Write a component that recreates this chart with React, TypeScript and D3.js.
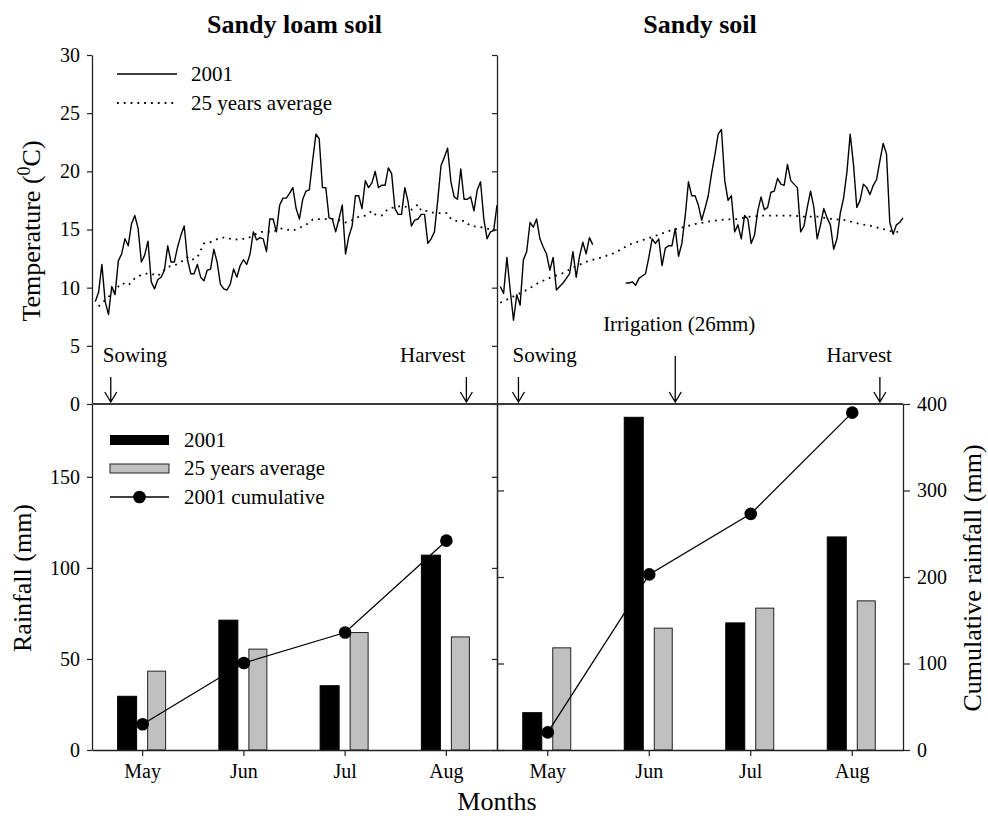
import React, { useEffect, useRef } from "react";
import * as d3 from "d3";

// monthly rainfall (mm)
const months = ["May", "Jun", "Jul", "Aug"];
const rainLoam = [29.5, 71.3, 35.3, 107];
const rainLoamAvg = [43.3, 55.4, 64.5, 62.1];
const cumLoam = [29.7, 100.6, 135.8, 242];
const rainSandy = [20.5, 182.7, 69.8, 117];
const rainSandyAvg = [56.1, 66.9, 77.9, 81.9];
const cumSandy = [20.4, 203, 273, 390];

const tempTicks = [0, 5, 10, 15, 20, 25, 30];
const rainTicks = [0, 50, 100, 150];
const cumTicks = [0, 100, 200, 300, 400];

// daily mean temperature 2001, day 1 = 1 May
const tempLoam = [
  8.8, 9.6, 12.0, 8.8, 7.7, 10.1, 9.4, 12.3, 12.9, 14.2,
  13.6, 15.5, 16.2, 15.1, 12.2, 12.8, 14.0, 10.5, 9.9, 10.7,
  10.9, 11.5, 13.6, 12.2, 12.2, 13.5, 14.5, 15.3, 12.4, 11.2,
  11.2, 12.0, 10.9, 10.6, 11.5, 11.6, 13.3, 12.2, 10.3, 9.9,
  9.8, 10.3, 11.6, 10.9, 11.9, 12.4, 12.0, 12.9, 14.8, 14.1,
  14.3, 14.2, 13.1, 15.9, 15.9, 14.8, 17.1, 17.7, 17.7, 18.1,
  18.6, 16.8, 15.9, 17.6, 18.3, 18.4, 20.9, 23.2, 22.8, 18.6,
  18.6, 16.0, 15.9, 14.8, 15.9, 17.1, 12.9, 14.4, 15.3, 17.9,
  17.9, 16.8, 19.2, 18.6, 19.0, 20.0, 18.6, 18.8, 18.8, 20.3,
  19.8, 16.8, 16.3, 16.3, 18.6, 17.4, 15.3, 15.8, 15.9, 16.3,
  16.3, 13.8, 14.2, 14.8, 17.5, 20.5, 21.2, 22.0, 19.1, 17.8,
  17.6, 20.2, 17.6, 17.6, 17.8, 16.6, 18.4, 19.1, 15.9, 14.2,
  14.8, 14.9, 17.1
];
const tempSandy = [
  10.1, 9.5, 12.6, 9.8, 7.2, 9.4, 8.5, 12.4, 13.1, 15.6,
  15.2, 15.9, 14.2, 13.5, 12.9, 11.5, 12.6, 9.8, 10.1, 10.4,
  10.8, 11.2, 13.1, 10.9, 12.7, 13.9, 12.9, 14.3, 13.7, null,
  null, null, null, null, null, null, null, null, 10.4, 10.4,
  10.5, 10.2, 10.8, 11.0, 11.2, 12.6, 14.2, 13.8, 14.2, 11.9,
  13.4, 13.6, 13.6, 15.1, 12.7, 13.8, 16.1, 19.1, 17.9, 17.9,
  17.1, 15.8, 16.8, 17.9, 19.8, 21.4, 23.2, 23.6, 19.2, 17.5,
  17.9, 14.8, 15.4, 14.2, 16.2, 15.9, 13.8, 14.5, 16.6, 17.8,
  16.7, 16.9, 18.2, 18.3, 19.4, 18.9, 18.8, 20.6, 19.2, 18.9,
  18.6, 14.8, 15.3, 16.9, 18.3, 16.9, 14.2, 15.4, 16.8, 16.0,
  15.4, 13.3, 14.2, 16.4, 17.7, 19.9, 23.2, 20.6, 16.9, 17.5,
  18.9, 18.6, 18.0, 18.8, 19.3, 20.9, 22.4, 21.5, 15.6, 14.6,
  15.4, 15.6, 16.0
];

// 25 years average temperature
const avgLoamDays = [2, 5, 7, 9, 11, 13, 15, 16, 18, 20, 21, 23, 25, 27, 29, 30, 32, 33, 34, 35, 37, 39, 41, 43, 45, 47, 49, 51, 53, 55, 57, 59, 61, 63, 65, 67, 69, 71, 73, 75, 77, 79, 81, 83, 85, 86, 88, 90, 92, 94, 96, 97, 99, 100, 102, 104, 106, 108, 109, 111, 113, 115, 117, 119, 121, 123];
const avgLoam = [8.4, 9.2, 9.8, 10.4, 10.2, 10.8, 11.1, 11.2, 11.2, 11.0, 11.3, 11.8, 11.9, 12.2, 12.6, 12.35, 12.6, 13.2, 13.8, 13.8, 14.05, 14.3, 14.3, 14.1, 14.2, 14.2, 14.5, 14.8, 14.8, 14.8, 15.1, 15.0, 14.9, 15.15, 15.4, 15.85, 15.9, 15.9, 15.9, 15.8, 15.6, 15.8, 16.1, 16.2, 16.6, 16.3, 16.2, 16.8, 16.9, 17.05, 16.9, 16.7, 17.15, 16.6, 16.6, 16.4, 16.4, 16.4, 15.9, 15.7, 15.75, 15.3, 15.25, 15.15, 15.0, 14.9];
const avgSandyDays = [1, 9, 12.5, 15.5, 19.6, 23.6, 27.7, 31.7, 35.8, 40, 44.3, 48.4, 52.4, 56.5, 60.5, 64.5, 68.6, 72.6, 76.7, 80.7, 85.2, 89.3, 93.3, 97.4, 101.4, 105.5, 109.5, 113.5, 117.6, 120, 121.5];
const avgSandy = [8.7, 9.8, 10.4, 10.8, 11.2, 11.8, 12.3, 12.6, 13.0, 13.7, 14.1, 14.5, 14.9, 15.2, 15.5, 15.7, 15.85, 15.9, 16.1, 16.2, 16.2, 16.2, 16.1, 16.1, 15.9, 15.8, 15.5, 15.3, 15.0, 14.8, 14.8];

const eventsLoam = [
  { day: 5.7, name: "Sowing" },
  { day: 113.7, name: "Harvest" }
];
const eventsSandy = [
  { day: 6.5, name: "Sowing" },
  { day: 54, name: "Irrigation (26mm)" },
  { day: 116, name: "Harvest" }
];

const FONT = "'Liberation Serif', 'Times New Roman', serif";

export default function App() {
  const ref = useRef<SVGSVGElement>(null);

  useEffect(() => {
    const svg = d3.select(ref.current);
    svg.selectAll("*").remove();

    const left = 92, mid = 497, right = 903;
    const top = 55, zero = 404, bottom = 750;

    const yTemp = d3.scaleLinear().domain([0, 30]).range([zero, top]);
    const yRain = d3.scaleLinear().domain([0, 190]).range([bottom, zero]);
    const yCum = d3.scaleLinear().domain([0, 400]).range([bottom, zero]);

    const panels = [
      { x0: left, x1: mid, title: "Sandy loam soil", temp: tempLoam, avgDays: avgLoamDays, avg: avgLoam, rain: rainLoam, rainAvg: rainLoamAvg, cum: cumLoam, events: eventsLoam },
      { x0: mid, x1: right, title: "Sandy soil", temp: tempSandy, avgDays: avgSandyDays, avg: avgSandy, rain: rainSandy, rainAvg: rainSandyAvg, cum: cumSandy, events: eventsSandy }
    ];

    const labelOffset: Record<string, { anchor: string; dx: number[]; y: number }> = {
      Sowing: { anchor: "start", dx: [-8, -6], y: 362 },
      Harvest: { anchor: "end", dx: [-1, 12], y: 362 },
      "Irrigation (26mm)": { anchor: "middle", dx: [4, 4], y: 331 }
    };

    const styleAxis = (g: any, size: number) => {
      g.selectAll("path.domain").attr("stroke", "#222").attr("stroke-width", 1.3);
      g.selectAll(".tick line").attr("stroke", "#222").attr("stroke-width", 1.2);
      g.selectAll("text").attr("font-family", FONT).attr("font-size", size).attr("fill", "#000");
      g.attr("font-family", null).attr("font-size", null);
    };

    panels.forEach((p, pi) => {
      const xDay = d3.scaleLinear().domain([0, 123]).range([p.x0, p.x1]);
      const xMonth = d3.scaleBand().domain(months).range([p.x0, p.x1]).padding(0);
      const xSeries = d3.scaleBand().domain(["2001", "avg"]).range([-25, 24]).paddingInner(0.3667).paddingOuter(0);

      // title
      svg.append("text")
        .attr("x", (p.x0 + p.x1) / 2)
        .attr("y", 33)
        .attr("text-anchor", "middle")
        .attr("font-family", FONT)
        .attr("font-weight", "bold")
        .attr("font-size", 26)
        .text(p.title);

      // temperature lines
      const tLine = d3.line<any>()
        .defined((d) => d != null)
        .x((d, i) => xDay(i + 1))
        .y((d) => yTemp(d));
      svg.append("path")
        .datum(p.temp)
        .attr("d", tLine)
        .attr("fill", "none")
        .attr("stroke", "#000")
        .attr("stroke-width", 1.4)
        .attr("stroke-linejoin", "round");

      const aLine = d3.line<number>()
        .x((d, i) => xDay(p.avgDays[i]))
        .y((d) => yTemp(d));
      svg.append("path")
        .datum(p.avg)
        .attr("d", aLine)
        .attr("fill", "none")
        .attr("stroke", "#000")
        .attr("stroke-width", 1.8)
        .attr("stroke-dasharray", "1.8 5");

      // events
      p.events.forEach((e) => {
        const x = xDay(e.day);
        const lo = labelOffset[e.name];
        const y0 = e.name.startsWith("Irrigation") ? 356 : 377;
        svg.append("path")
          .attr("d", `M${x},${y0}V${zero - 2}M${x - 6},${zero - 12}L${x},${zero - 2}L${x + 6},${zero - 12}`)
          .attr("fill", "none")
          .attr("stroke", "#000")
          .attr("stroke-width", 1.3);
        svg.append("text")
          .attr("x", x + lo.dx[pi])
          .attr("y", lo.y)
          .attr("text-anchor", lo.anchor)
          .attr("font-family", FONT)
          .attr("font-size", 21)
          .text(e.name);
      });

      // rainfall bars
      const g = svg.append("g");
      g.selectAll("rect.r01")
        .data(p.rain)
        .enter()
        .append("rect")
        .attr("x", (d, i) => xMonth(months[i])! + xMonth.bandwidth() / 2 + xSeries("2001")!)
        .attr("width", xSeries.bandwidth())
        .attr("y", (d) => yRain(d))
        .attr("height", (d) => bottom - yRain(d))
        .attr("fill", "#000")
        .attr("stroke", "#000")
        .attr("stroke-width", 1);
      g.selectAll("rect.ravg")
        .data(p.rainAvg)
        .enter()
        .append("rect")
        .attr("x", (d, i) => xMonth(months[i])! + xMonth.bandwidth() / 2 + xSeries("avg")!)
        .attr("width", xSeries.bandwidth() - 1)
        .attr("y", (d) => yRain(d))
        .attr("height", (d) => bottom - yRain(d))
        .attr("fill", "#c0c0c0")
        .attr("stroke", "#222")
        .attr("stroke-width", 1);

      // cumulative
      const cLine = d3.line<number>()
        .x((d, i) => xMonth(months[i])! + xMonth.bandwidth() / 2)
        .y((d) => yCum(d));
      svg.append("path")
        .datum(p.cum)
        .attr("d", cLine)
        .attr("fill", "none")
        .attr("stroke", "#000")
        .attr("stroke-width", 1.3);
      svg.selectAll(null)
        .data(p.cum)
        .enter()
        .append("circle")
        .attr("cx", (d, i) => xMonth(months[i])! + xMonth.bandwidth() / 2)
        .attr("cy", (d) => yCum(d))
        .attr("r", 6.3)
        .attr("fill", "#000");

      // bottom axis
      const xb = svg.append("g")
        .attr("transform", `translate(0,${bottom})`)
        .call(d3.axisBottom(xMonth).tickSize(6).tickSizeOuter(0).tickPadding(8));
      styleAxis(xb, 20);
    });

    // left axes
    const al = svg.append("g").attr("transform", `translate(${left},0)`)
      .call(d3.axisLeft(yTemp).tickValues(tempTicks).tickSize(5).tickSizeOuter(0).tickPadding(7));
    styleAxis(al, 20);
    const ar = svg.append("g").attr("transform", `translate(${left},0)`)
      .call(d3.axisLeft(yRain).tickValues(rainTicks).tickSize(5).tickSizeOuter(0).tickPadding(7));
    ar.selectAll(".tick").filter((d: any) => d === 0 && false).remove();
    styleAxis(ar, 20);

    // middle divider ticks
    const m1 = svg.append("g").attr("transform", `translate(${mid},0)`)
      .call(d3.axisLeft(yTemp).tickValues(tempTicks).tickSize(5).tickSizeOuter(0).tickFormat(() => ""));
    styleAxis(m1, 20);
    const m2 = svg.append("g").attr("transform", `translate(${mid},0)`)
      .call(d3.axisLeft(yRain).tickValues(rainTicks).tickSize(5).tickSizeOuter(0).tickFormat(() => ""));
    styleAxis(m2, 20);
    const m3 = svg.append("g").attr("transform", `translate(${mid},0)`)
      .call(d3.axisRight(yCum).tickValues(cumTicks).tickSize(7).tickSizeOuter(0).tickFormat(() => ""));
    styleAxis(m3, 20);

    // right axis
    const rr = svg.append("g").attr("transform", `translate(${right},0)`)
      .call(d3.axisRight(yCum).tickValues(cumTicks).tickSize(7).tickSizeOuter(0).tickPadding(7));
    styleAxis(rr, 20);

    // divider between temperature and rainfall
    svg.append("line")
      .attr("x1", left).attr("x2", right)
      .attr("y1", zero).attr("y2", zero)
      .attr("stroke", "#3a3a3a")
      .attr("stroke-width", 1.8);

    // temperature legend
    const tl = [
      { label: "2001", dash: null, y: 74 },
      { label: "25 years average", dash: "1.8 5", y: 103 }
    ];
    tl.forEach((d) => {
      svg.append("line")
        .attr("x1", 117).attr("x2", 177).attr("y1", d.y).attr("y2", d.y)
        .attr("stroke", "#000")
        .attr("stroke-width", d.dash ? 1.8 : 1.3)
        .attr("stroke-dasharray", d.dash);
      svg.append("text")
        .attr("x", 191).attr("y", d.y + 7)
        .attr("font-family", FONT).attr("font-size", 21)
        .text(d.label);
    });

    // rainfall legend
    svg.append("rect").attr("x", 110).attr("y", 435).attr("width", 59).attr("height", 10).attr("fill", "#000");
    svg.append("rect").attr("x", 110).attr("y", 464).attr("width", 59).attr("height", 9).attr("fill", "#c0c0c0").attr("stroke", "#222");
    svg.append("line").attr("x1", 110).attr("x2", 169).attr("y1", 497).attr("y2", 497).attr("stroke", "#000").attr("stroke-width", 1.3);
    svg.append("circle").attr("cx", 139.5).attr("cy", 497).attr("r", 6.3).attr("fill", "#000");
    [["2001", 447], ["25 years average", 475], ["2001 cumulative", 504]].forEach(([t, y]) => {
      svg.append("text")
        .attr("x", 184).attr("y", y as number)
        .attr("font-family", FONT).attr("font-size", 21)
        .text(t as string);
    });

    // axis titles
    const tt = svg.append("text")
      .attr("transform", `translate(40,231) rotate(-90)`)
      .attr("text-anchor", "middle")
      .attr("font-family", FONT)
      .attr("font-size", 26);
    tt.append("tspan").text("Temperature (");
    tt.append("tspan").attr("dy", -10).attr("font-size", 18).text("0");
    tt.append("tspan").attr("dy", 10).text("C)");

    svg.append("text")
      .attr("transform", `translate(31,578) rotate(-90)`)
      .attr("text-anchor", "middle")
      .attr("font-family", FONT)
      .attr("font-size", 26)
      .text("Rainfall (mm)");
    svg.append("text")
      .attr("transform", `translate(981,578) rotate(-90)`)
      .attr("text-anchor", "middle")
      .attr("font-family", FONT)
      .attr("font-size", 26)
      .text("Cumulative rainfall (mm)");
    svg.append("text")
      .attr("x", 497).attr("y", 810)
      .attr("text-anchor", "middle")
      .attr("font-family", FONT)
      .attr("font-size", 26)
      .text("Months");
  }, []);

  return (
    <svg
      ref={ref}
      width={988}
      height={818}
      style={{ position: "absolute", left: 0, top: 0, background: "#fff" }}
    />
  );
}
